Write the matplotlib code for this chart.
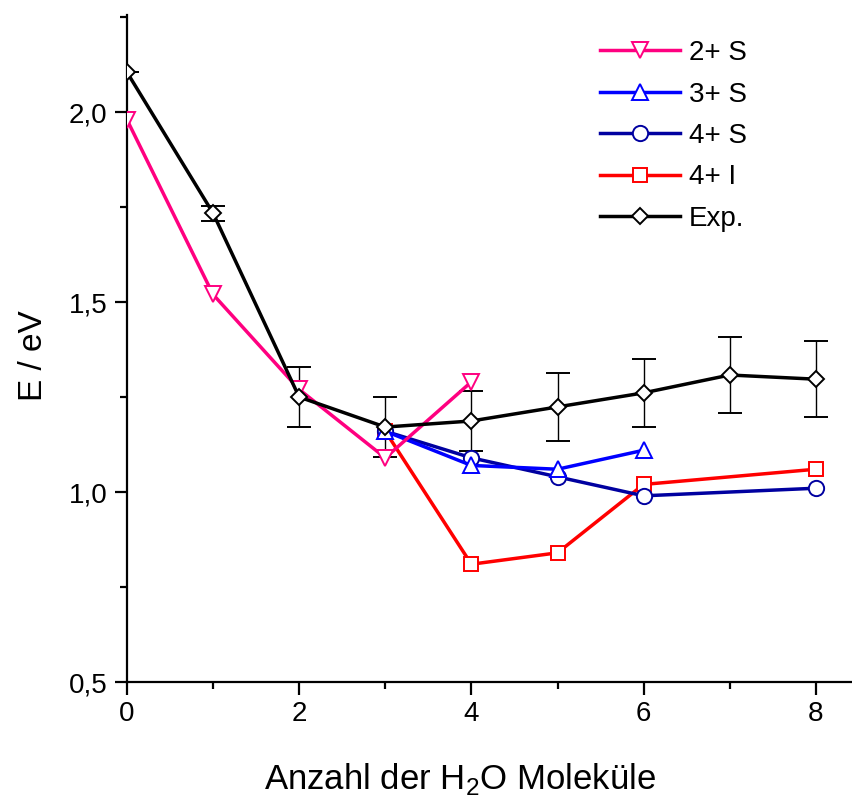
#!/usr/bin/env python
import matplotlib as mpl; mpl.use("Agg")
import matplotlib.pyplot as plt
from matplotlib.ticker import MultipleLocator, FuncFormatter

mpl.rcParams.update({
    "font.family": ["Liberation Sans", "DejaVu Sans"],
    "mathtext.fontset": "custom",
    "mathtext.rm": "Liberation Sans",
    "axes.linewidth": 1.6,
})

# Data
# ------------------------------------------------------------------------------
x_2s = [0, 1, 2, 3, 4]
y_2s = [1.98, 1.52, 1.27, 1.09, 1.29]

x_3s = [3, 4, 5, 6]
y_3s = [1.16, 1.07, 1.06, 1.11]

x_4s = [3, 4, 5, 6, 8]
y_4s = [1.16, 1.09, 1.04, 0.99, 1.01]

x_4i = [3, 4, 5, 6, 8]
y_4i = [1.16, 0.81, 0.84, 1.02, 1.06]

x_exp = [0, 1, 2, 3, 4, 5, 6, 7, 8]
y_exp = [2.105, 1.734, 1.25, 1.171, 1.187, 1.224, 1.261, 1.308, 1.297]
err_exp = [0.0, 0.02, 0.08, 0.08, 0.08, 0.09, 0.09, 0.10, 0.10]

# Figure
# ------------------------------------------------------------------------------
fig = plt.figure(figsize=(8.52, 8.0), dpi=100)
ax = fig.add_axes([0.149, 0.1475, 0.851, 0.8335])

style = dict(lw=2.5, ms=11, mew=1.4, mfc="white")

# error bars of the experiment
eb = ax.errorbar(x_exp, y_exp, yerr=err_exp, fmt="none", ecolor="black",
                 elinewidth=1.0, capsize=8.5, capthick=1.4, zorder=2)
for cap in eb[1]:
    cap.set_color("#555555")

ax.plot(x_exp, y_exp, color="black", marker="D", ms=8.5, lw=2.5, mew=1.4,
        mfc="white", label="Exp.", zorder=5)
ax.plot(x_4i, y_4i, color="#FF0000", marker="s", ms=9.5, lw=2.5, mew=1.4,
        mfc="white", label="4+ I", zorder=3)
ax.plot(x_4s, y_4s, color="#0000A0", marker="o", label="4+ S", zorder=3, **style)
ax.plot(x_3s, y_3s, color="#0000FF", marker="^", label="3+ S", zorder=3, **style)
ax.plot(x_2s, y_2s, color="#FF0080", marker="v", label="2+ S", zorder=4, **style)

ax.set_xlim(0, 8.42)
ax.set_ylim(0.5, 2.255)

ax.spines["top"].set_visible(False)
ax.spines["right"].set_visible(False)

ax.xaxis.set_major_locator(MultipleLocator(2))
ax.xaxis.set_minor_locator(MultipleLocator(1))
ax.yaxis.set_major_locator(MultipleLocator(0.5))
ax.yaxis.set_minor_locator(MultipleLocator(0.25))
ax.yaxis.set_major_formatter(FuncFormatter(lambda v, p: f"{v:.1f}".replace(".", ",")))
ax.tick_params(which="major", direction="out", length=9, width=1.6,
               labelsize=20, pad=5)
ax.tick_params(which="minor", direction="out", length=5, width=1.6)

ax.set_xlabel(r"Anzahl der H$_2$O Moleküle", fontsize=25)
ax.xaxis.set_label_coords(0.459, -0.118)
ax.set_ylabel("E / eV", fontsize=24)
ax.yaxis.set_label_coords(-0.107, 0.49)

handles, labels = ax.get_legend_handles_labels()
order = [4, 3, 2, 1, 0]
ax.legend([handles[i] for i in order], [labels[i] for i in order],
          loc="upper left", bbox_to_anchor=(0.618, 1.0), frameon=False,
          fontsize=20, handlelength=2.88, handletextpad=0.32, labelspacing=0.555)

fig.savefig("out.png", dpi=100)
